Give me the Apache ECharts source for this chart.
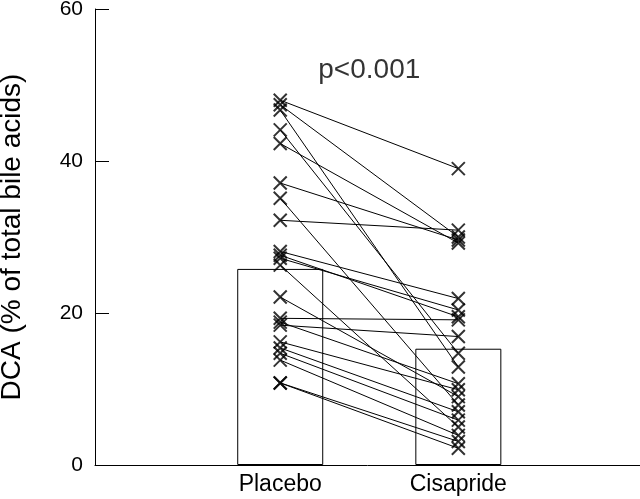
<!DOCTYPE html>
<html>
<head>
<meta charset="utf-8">
<script src="https://cdn.jsdelivr.net/npm/echarts@6/dist/echarts.min.js"></script>
<style>
  html, body { margin: 0; padding: 0; background: #ffffff; }
  #chart { width: 640px; height: 499px; }
</style>
</head>
<body>
<div id="chart"></div>
<script>
// 组别
const groups = ["Placebo", "Cisapride"];
// 柱高（各组汇总值）
const barValues = [25.8, 15.3];
// 每位受试者的配对值
const placebo = [48.0, 47.4, 46.7, 44.1, 42.3, 37.1, 35.1, 32.2, 28.1, 27.6, 27.2,
  26.3, 22.1, 19.3, 18.8, 18.4, 16.2, 15.4, 14.7, 13.8, 10.8, 10.8];
const cisapride = [39.0, 30.0, 12.9, 14.7, 29.2, 29.6, 7.9, 30.9, 21.9, 19.5, 20.4,
  5.0, 9.0, 19.1, 10.7, 16.9, 9.9, 7.0, 5.9, 3.9, 3.1, 2.2];
const yTicks = [0, 20, 40, 60];
const pText = "p<0.001";

const font = "'Liberation Sans', Arial, sans-serif";
const cross = "path://M0,0L10,10M10,0L0,10";

// 拼装数据
const barData = barValues.map((v, i) => [i + 1, v]);
const pointData = [];
const lineData = [];
for (var i = 0; i < placebo.length; i++) {
  pointData.push([1, placebo[i]]);
  pointData.push([2, cisapride[i]]);
  lineData.push({ coords: [[1, placebo[i]], [2, cisapride[i]]] });
}

const option = {
  animation: false,
  // v6 默认会收缩网格来容纳坐标轴名，这里关掉
  grid: { left: 95, right: 0, top: 9, bottom: 34, containLabel: false, outerBoundsMode: "none" },
  xAxis: {
    type: "value",
    min: -0.04,
    max: 3.02,
    splitLine: { show: false },
    axisTick: { show: false },
    axisLine: { onZero: false, lineStyle: { color: "#000", width: 1 } },
    axisLabel: {
      color: "#000",
      fontSize: 23,
      fontFamily: font,
      margin: 8,
      customValues: [1, 2],
      formatter: (v) => groups[Math.round(v) - 1] || "",
    },
  },
  yAxis: {
    type: "value",
    min: yTicks[0],
    max: yTicks[yTicks.length - 1],
    interval: 20,
    name: "DCA (% of total bile acids)",
    nameLocation: "middle",
    nameGap: 69,
    nameTextStyle: { color: "#000", fontSize: 28, fontFamily: font },
    splitLine: { show: false },
    axisLine: { show: true, onZero: false, lineStyle: { color: "#000", width: 1 } },
    axisTick: { show: true, inside: true, length: 14, lineStyle: { color: "#000" } },
    axisLabel: { color: "#000", fontSize: 21, fontFamily: font, margin: 12 },
  },
  series: [
    {
      type: "bar",
      data: barData,
      barWidth: 86,
      itemStyle: { color: "#fff", borderColor: "#000", borderWidth: 1 },
      z: 1,
    },
    {
      type: "lines",
      coordinateSystem: "cartesian2d",
      data: lineData,
      lineStyle: { color: "#000", width: 1, opacity: 1 },
      z: 2,
    },
    {
      type: "scatter",
      data: pointData,
      symbol: cross,
      symbolSize: 13,
      itemStyle: { color: "none", borderColor: "#000", borderWidth: 2 },
      z: 3,
    },
    {
      type: "scatter",
      data: [[1.5, 52]],
      symbolSize: 0,
      silent: true,
      label: {
        show: true,
        position: "inside",
        formatter: pText,
        color: "#000",
        fontSize: 28,
        fontFamily: font,
      },
      z: 4,
    },
  ],
};

var myChart = echarts.init(document.getElementById("chart"));
myChart.setOption(option);
</script>
</body>
</html>
